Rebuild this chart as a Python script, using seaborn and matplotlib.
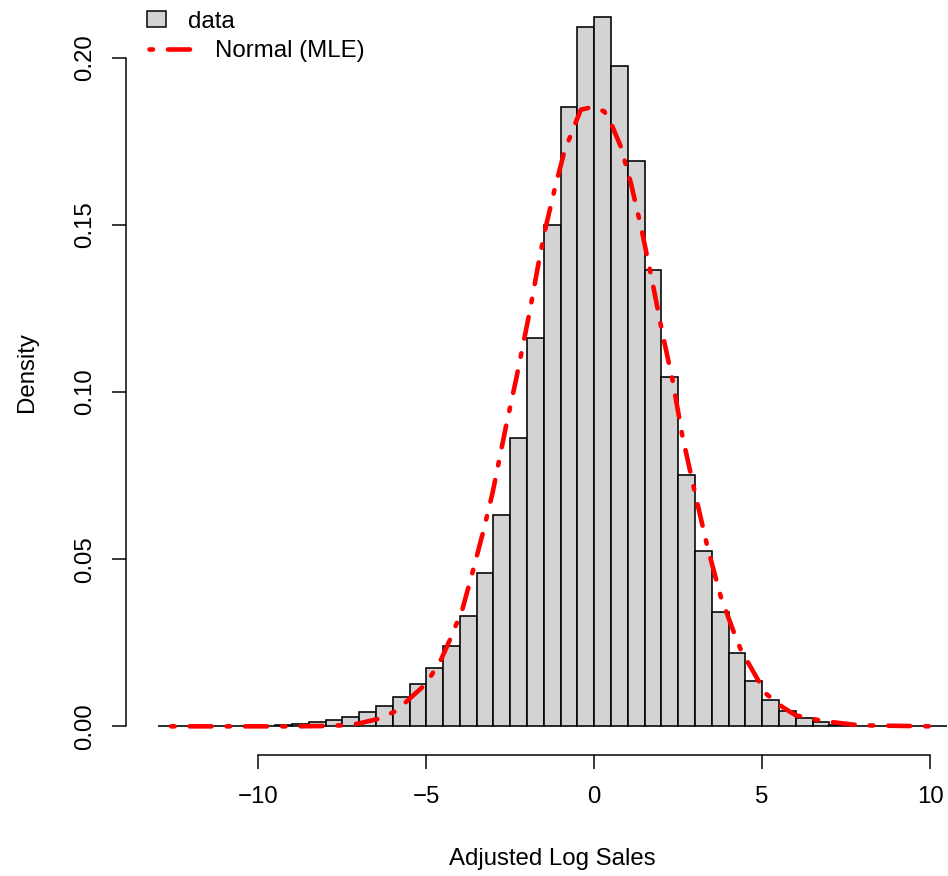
import numpy as np
import pandas as pd
import matplotlib
matplotlib.use("Agg")
import matplotlib.pyplot as plt
import seaborn as sns
from matplotlib.patches import Rectangle
from matplotlib.lines import Line2D

# ---------------- data ----------------
bin_left = [-13.0, -12.5, -12.0, -11.5, -11.0, -10.5, -10.0, -9.5, -9.0, -8.5,
            -8.0, -7.5, -7.0, -6.5, -6.0, -5.5, -5.0, -4.5, -4.0, -3.5,
            -3.0, -2.5, -2.0, -1.5, -1.0, -0.5, 0.0, 0.5, 1.0, 1.5,
            2.0, 2.5, 3.0, 3.5, 4.0, 4.5, 5.0, 5.5, 6.0, 6.5,
            7.0, 7.5, 8.0, 8.5, 9.0, 9.5, 10.0]
bin_width = 0.5
density = [0.0, 0.0, 0.0, 0.0, 0.0, 0.0, 0.0001, 0.0003, 0.0007, 0.0014,
           0.0020, 0.0029, 0.0043, 0.0060, 0.0088, 0.0126, 0.0173, 0.0240, 0.0329, 0.0459,
           0.0632, 0.0861, 0.1161, 0.1498, 0.1852, 0.2090, 0.2120, 0.1976, 0.1690, 0.1365,
           0.1045, 0.0751, 0.0524, 0.0341, 0.0219, 0.0135, 0.0078, 0.0045, 0.0025, 0.0013,
           0.0005, 0.0002, 0.0, 0.0, 0.0, 0.0, 0.0]

curve_x = [-12.6, -9.0, -8.0, -7.54, -7.04, -6.4, -5.9, -5.0, -4.56, -4.26,
           -3.92, -3.62, -3.32, -3.03, -2.63, -2.33, -1.93, -1.64, -1.44, -1.17,
           -0.89, -0.54, -0.40, -0.05, 0.30, 0.54, 0.79, 1.09, 1.39, 1.74,
           2.03, 2.33, 2.63, 2.98, 3.37, 3.77, 4.17, 4.37, 4.71, 5.11,
           5.6, 6.0, 6.8, 7.9, 10.1]
curve_y = [0.0, 0.0, 0.0001, 0.0003, 0.0008, 0.0023, 0.0046, 0.0128, 0.0200, 0.0267,
           0.0352, 0.0462, 0.0577, 0.0697, 0.0896, 0.1036, 0.1236, 0.1395, 0.1495, 0.1610,
           0.1719, 0.1809, 0.1844, 0.1852, 0.1839, 0.1794, 0.1734, 0.1625, 0.1495, 0.1325,
           0.1176, 0.1036, 0.0866, 0.0707, 0.0537, 0.0387, 0.0278, 0.0228, 0.0168, 0.0098,
           0.0058, 0.0033, 0.0016, 0.0003, 0.0]

x_ticks = [-10, -5, 0, 5, 10]
y_ticks = [0.00, 0.05, 0.10, 0.15, 0.20]
y_tick_labels = ["0.00", "0.05", "0.10", "0.15", "0.20"]
legend_labels = ["data", "Normal (MLE)"]
x_label = "Adjusted Log Sales"
y_label = "Density"

# ---------------- style ----------------
sns.set_style("ticks")
plt.rcParams["font.family"] = ["Liberation Sans", "DejaVu Sans"]
plt.rcParams["font.size"] = 12
plt.rcParams["text.color"] = "black"
plt.rcParams["lines.dash_capstyle"] = "round"
plt.rcParams["lines.solid_capstyle"] = "round"

W, H, DPI = 948, 876, 144
fig = plt.figure(figsize=(W / DPI, H / DPI), dpi=DPI)
fig.patch.set_facecolor("white")

def fx(px):
    return px / W

def fy(py):
    return 1 - py / H

# plot region (extends slightly beyond the canvas on top/right like the reference)
left_px, right_px, bottom_px, top_px = 126.1, 978.4, 754.7, -11.0
ax = fig.add_axes([fx(left_px), fy(bottom_px), (right_px - left_px) / W, (bottom_px - top_px) / H])
ax.set_facecolor("white")

df = pd.DataFrame({"mid": np.array(bin_left) + bin_width / 2, "dens": density})
edges = list(bin_left) + [bin_left[-1] + bin_width]
sns.histplot(data=df, x="mid", weights="dens", bins=edges, stat="count",
             color="#D3D3D3", alpha=1.0, edgecolor="black", linewidth=0.8, ax=ax)

red_lw = 2.3
dash = (0, (0.76, 3.26, 4.78, 3.26))
cdf = pd.DataFrame({"x": curve_x, "y": curve_y})
sns.lineplot(data=cdf, x="x", y="y", sort=False, estimator=None, color="red",
             linewidth=red_lw, ax=ax)
for ln in ax.get_lines():
    ln.set_linestyle(dash)
    ln.set_dash_capstyle("round")

ax.set_xlim(-13.94, 11.44)
ax.set_ylim(-0.00848, 0.2205)
ax.set_xlabel("")
ax.set_ylabel("")

for s in ["top", "right"]:
    ax.spines[s].set_visible(False)
ax.spines["left"].set_bounds(0, 0.2)
ax.spines["bottom"].set_bounds(-10, 10)
for s in ["left", "bottom"]:
    ax.spines[s].set_linewidth(0.75)
    ax.spines[s].set_color("black")

ax.set_xticks(x_ticks)
ax.set_xticklabels([f"{t}".replace("-", "\u2212") for t in x_ticks])
ax.set_yticks(y_ticks)
ax.set_yticklabels(y_tick_labels, rotation=90, va="center")
ax.tick_params(axis="both", direction="out", length=7.2, width=0.75, color="black",
               labelsize=12, labelcolor="black")
ax.tick_params(axis="y", pad=8)
ax.tick_params(axis="x", pad=8.5)

# axis titles
fig.text(fx((left_px + right_px) / 2), fy(864.5), x_label, ha="center", va="baseline",
         fontsize=12, color="black")
fig.text(fx(33.0), fy((bottom_px + top_px) / 2), y_label, rotation=90, rotation_mode="anchor",
         ha="center", va="baseline", fontsize=12, color="black")

# legend (R style, no box)
fig.patches.append(Rectangle((fx(147), fy(27)), (166 - 147) / W, 16 / H, transform=fig.transFigure,
                             facecolor="#D3D3D3", edgecolor="black", linewidth=0.75))
fig.lines.append(Line2D([fx(149.3), fx(189.8)], [fy(49.3), fy(49.3)], transform=fig.transFigure,
                        color="red", linewidth=red_lw, linestyle=dash, dash_capstyle="round"))
fig.text(fx(188), fy(28.3), legend_labels[0], ha="left", va="baseline", fontsize=12, color="black")
fig.text(fx(215), fy(56.7), legend_labels[1], ha="left", va="baseline", fontsize=12, color="black")

fig.savefig("out.png", dpi=DPI, facecolor="white")
